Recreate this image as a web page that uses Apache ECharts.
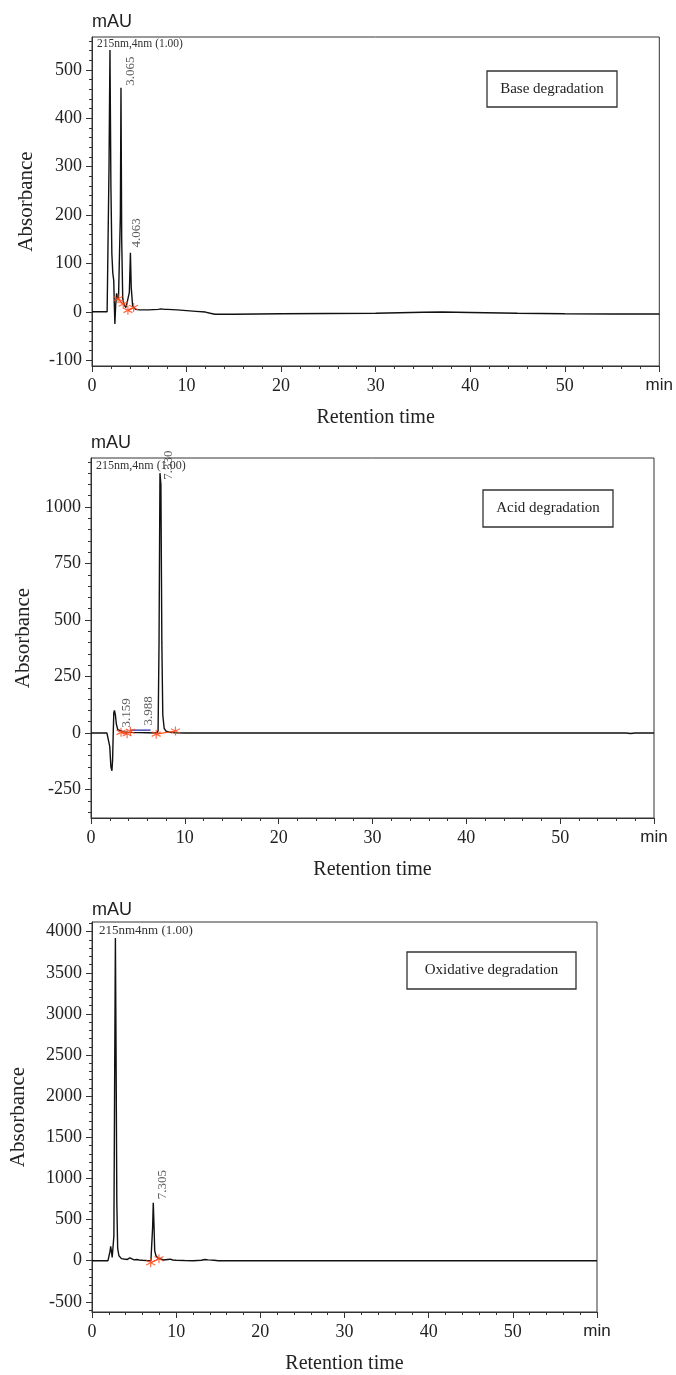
<!DOCTYPE html>
<html>
<head>
<meta charset="utf-8">
<script src="https://cdn.jsdelivr.net/npm/echarts@6/dist/echarts.min.js"></script>
<style>
html, body { margin: 0; background: #fff; }
#main { width: 676px; height: 1375px; }
</style>
</head>
<body>
<div id="main"></div>
<script>
// base degradation trace
var baseTime = [0, 1.6, 1.7, 1.8, 1.9, 2.0, 2.1, 2.2, 2.3, 2.36, 2.42, 2.5, 2.6, 2.7, 2.8, 2.92, 3.0, 3.065, 3.14, 3.25, 3.4, 3.6, 3.8, 3.95, 4.063, 4.15, 4.3, 4.6, 5, 6, 7, 7.3, 7.5, 7.7, 8, 9, 10, 11, 12, 12.5, 13, 15, 20, 25, 30, 35, 37, 40, 45, 50, 55, 60];
var baseAbs = [0, 0, 2, 300, 541, 260, 120, 80, 65, 15, -25, 12, 38, 30, 25, 22, 200, 463, 150, 28, 14, 9, 5, 40, 122, 50, 12, 5, 4, 4, 5, 6, 8, 5, 5, 4, 2.5, 1, -0.5, -3, -5, -5, -4, -3.5, -3, -1, -0.5, -1.5, -3, -4, -4.5, -4.5];
var baseMarks = [[2.75, 27], [3.3, 16], [3.8, 3], [4.4, 9]];
var basePeaks = [[4.1, 466, '3.065'], [4.8, 132, '4.063']];

// acid degradation trace
var acidTime = [0, 1.7, 1.85, 2.0, 2.12, 2.23, 2.3, 2.37, 2.43, 2.5, 2.6, 2.7, 2.85, 3.0, 3.5, 4, 5, 6, 7, 7.15, 7.25, 7.35, 7.45, 7.55, 7.65, 7.8, 8, 8.5, 9, 10, 20, 30, 40, 50, 57, 57.5, 58, 60];
var acidAbs = [0, 0, -5, -60, -150, -167, -120, 0, 90, 100, 80, 40, 15, 8, 5, 3, 2, 1, 0, 10, 400, 1150, 1100, 400, 80, 20, 8, 3, 1, 0, 0, 0, 0, 0, 0, -2, 0, 0];
var acidMarks = [[3.2, 3], [3.85, -3], [4.2, 8], [6.95, -5], [9.0, 9]];
var acidBlue = [[4.15, 13], [6.35, 13]];
var acidPeaks = [[3.85, 22, '3.159'], [6.15, 31, '3.988'], [8.3, 1119, '7.330']];

// oxidative degradation trace
var oxTime = [0, 1.9, 2.05, 2.15, 2.22, 2.3, 2.4, 2.5, 2.6, 2.7, 2.78, 2.86, 2.95, 3.05, 3.2, 3.5, 3.8, 4.0, 4.2, 4.5, 4.7, 5.0, 5.3, 5.6, 6.0, 6.5, 7.0, 7.1, 7.2, 7.28, 7.36, 7.45, 7.6, 7.8, 8.0, 8.5, 9.0, 9.3, 9.6, 10, 11, 12, 13, 13.4, 13.8, 14.5, 15, 60];
var oxAbs = [0, 0, 20, 120, 174, 120, 40, 30, 300, 2400, 3923, 2500, 700, 150, 60, 25, 20, 35, 15, 35, 15, 10, 15, 8, 5, 2, 0, 20, 400, 705, 450, 120, 60, 35, 25, 8, 15, 18, 8, 5, 2, 0, 5, 15, 10, 5, 0, 0];
var oxMarks = [[6.97, -25], [7.96, 24]];
var oxPeaks = [[8.4, 741, '7.305']];

var titles = ['Base degradation', 'Acid degradation', 'Oxidative degradation'];
var headers = ['215nm,4nm (1.00)', '215nm,4nm (1.00)', '215nm4nm (1.00)'];

function zip(xs, ys) {
    return xs.map(function(x, i) { return [x, ys[i]]; });
}
function steps(a, b, s) {
    var out = [];
    for (var v = a; v <= b + 1e-9; v += s) out.push(Math.round(v * 100) / 100);
    return out;
}

var serif = 'Liberation Serif';
var sans = 'Liberation Sans';
var axisCol = '#333';
var star = 'path://M0,-5L0,5M-4.33,-2.5L4.33,2.5M-4.33,2.5L4.33,-2.5';

var grids = [
    { left: 92, top: 37, width: 570, height: 329 },
    { left: 91, top: 458, width: 563, height: 360 },
    { left: 92, top: 922, width: 505, height: 390 }
];
var yRange = [[-112, 568], [-376, 1217], [-624, 4118]];
var yMajor = [steps(-100, 500, 100), steps(-250, 1000, 250), steps(-500, 4000, 500)];
var yMinor = [steps(-100, 560, 20), steps(-350, 1200, 50), steps(-600, 4100, 100)];
var absGap = [55, 55, 63];
var mauGap = [15, 15, 12];

var xAxes = [], yAxes = [];
grids.forEach(function(g, i) {
    g.show = true;
    g.borderColor = axisCol;
    g.borderWidth = 1;
    xAxes.push({
        gridIndex: i, type: 'value', position: 'bottom', min: 0, max: 60, interval: 10,
        name: 'Retention time', nameLocation: 'middle', nameGap: 42,
        nameTextStyle: { fontFamily: serif, fontSize: 20, color: '#222' },
        axisLine: { onZero: false, lineStyle: { color: axisCol } },
        axisTick: { length: 6, lineStyle: { color: axisCol } },
        minorTick: { show: true, splitNumber: 5, length: 3, lineStyle: { color: axisCol } },
        splitLine: { show: false },
        axisLabel: {
            margin: 11, fontFamily: serif, fontSize: 18, color: '#222',
            formatter: function(v) { return v === 60 ? '{m|min}' : String(v); },
            rich: { m: { fontFamily: sans, fontSize: 17, color: '#222' } }
        }
    });
    yAxes.push({
        gridIndex: i, type: 'value', position: 'left', min: yRange[i][0], max: yRange[i][1],
        name: 'Absorbance', nameLocation: 'middle', nameGap: absGap[i],
        nameTextStyle: { fontFamily: serif, fontSize: 21, color: '#222' },
        axisLine: { show: true, onZero: false, lineStyle: { color: axisCol } },
        axisTick: { show: true, length: 6, customValues: yMajor[i], lineStyle: { color: axisCol } },
        splitLine: { show: false },
        axisLabel: {
            margin: 10, fontFamily: serif, fontSize: 18, color: '#222', customValues: yMajor[i],
            formatter: function(v) { return String(v); }
        }
    });
    yAxes.push({
        gridIndex: i, type: 'value', position: 'left', offset: 0, min: yRange[i][0], max: yRange[i][1],
        name: 'mAU', nameLocation: 'end', nameGap: mauGap[i],
        nameTextStyle: { fontFamily: sans, fontSize: 18, color: '#222', align: 'left', verticalAlign: 'middle' },
        axisLine: { show: false, onZero: false },
        axisTick: { show: true, length: 3, customValues: yMinor[i], lineStyle: { color: axisCol } },
        splitLine: { show: false },
        axisLabel: { show: false }
    });
});

function trace(i, data) {
    return {
        type: 'line', xAxisIndex: i, yAxisIndex: 2 * i, data: data,
        symbol: 'none', lineStyle: { color: '#111', width: 1.4 }, z: 3
    };
}
function segs(i, data, color) {
    return {
        type: 'line', xAxisIndex: i, yAxisIndex: 2 * i, data: data,
        symbol: 'none', lineStyle: { color: color, width: 1.2 }, z: 4
    };
}
function marks(i, data) {
    return {
        type: 'scatter', xAxisIndex: i, yAxisIndex: 2 * i, data: data,
        symbol: star, symbolSize: 9, z: 5,
        itemStyle: { color: 'rgba(0,0,0,0)', borderColor: '#ff4a1a', borderWidth: 1.2 }
    };
}
function peakLabels(i, list) {
    return {
        type: 'scatter', xAxisIndex: i, yAxisIndex: 2 * i, symbolSize: 1, z: 6,
        itemStyle: { color: 'rgba(0,0,0,0)' },
        data: list.map(function(p) { return { value: [p[0], p[1]], name: p[2] }; }),
        label: {
            show: true, position: [0, 0], rotate: 90, align: 'left', verticalAlign: 'middle',
            formatter: '{b}', fontFamily: serif, fontSize: 13, color: '#333'
        }
    };
}

var graphic = [];
var boxes = [
    { x: 487, y: 71, w: 130, h: 36 },
    { x: 483, y: 490, w: 130, h: 37 },
    { x: 407, y: 952, w: 169, h: 37 }
];
var heads = [
    { x: 97, y: 44, s: 11.5 },
    { x: 96, y: 466, s: 12 },
    { x: 99, y: 931, s: 13 }
];
boxes.forEach(function(b, i) {
    graphic.push({
        type: 'rect', shape: { x: b.x, y: b.y, width: b.w, height: b.h },
        style: { fill: '#fff', stroke: axisCol, lineWidth: 1.3 }, z: 10
    });
    graphic.push({
        type: 'text', x: b.x + b.w / 2, y: b.y + b.h / 2, z: 11,
        style: { text: titles[i], fontFamily: serif, fontSize: 15, fill: '#222', align: 'center', verticalAlign: 'middle' }
    });
    graphic.push({
        type: 'text', x: heads[i].x, y: heads[i].y, z: 11,
        style: { text: headers[i], fontFamily: serif, fontSize: heads[i].s, fill: '#333', align: 'left', verticalAlign: 'middle' }
    });
});

var chart = echarts.init(document.getElementById('main'));
chart.setOption({
    animation: false,
    backgroundColor: '#fff',
    grid: grids,
    xAxis: xAxes,
    yAxis: yAxes,
    graphic: graphic,
    series: [
        trace(0, zip(baseTime, baseAbs)),
        segs(0, [baseMarks[0], baseMarks[1], [3.5, '-'], baseMarks[2], baseMarks[3]], '#ff4a1a'),
        marks(0, baseMarks),
        peakLabels(0, basePeaks),
        trace(1, zip(acidTime, acidAbs)),
        segs(1, [acidMarks[0], acidMarks[1], [5, '-'], acidMarks[3], acidMarks[4]], '#ff4a1a'),
        segs(1, acidBlue, '#2222aa'),
        marks(1, acidMarks),
        peakLabels(1, acidPeaks),
        trace(2, zip(oxTime, oxAbs)),
        segs(2, oxMarks, '#ff4a1a'),
        marks(2, oxMarks),
        peakLabels(2, oxPeaks)
    ]
});
</script>
</body>
</html>
